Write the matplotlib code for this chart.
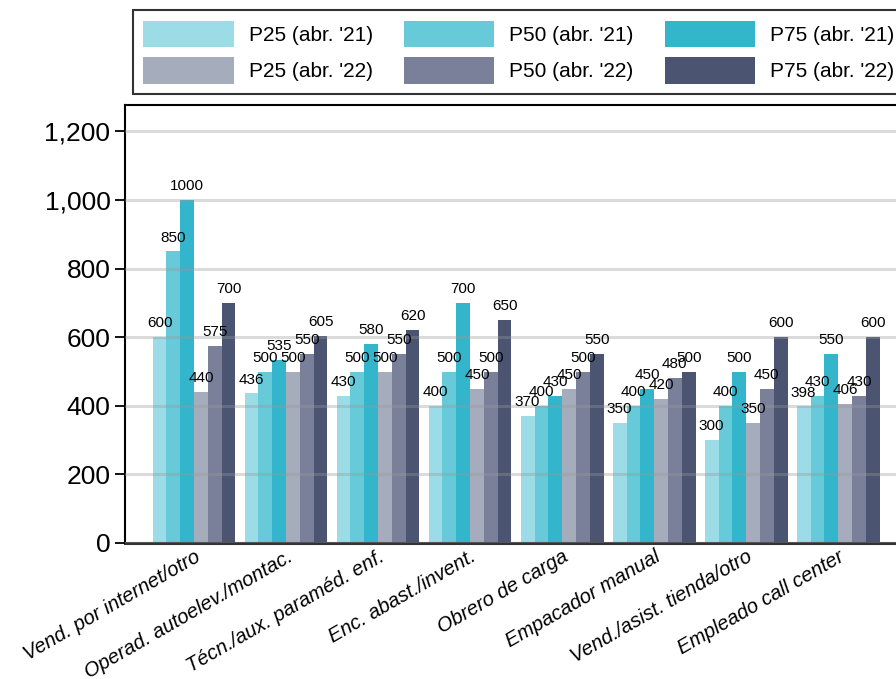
import matplotlib
matplotlib.use("Agg")
import matplotlib.pyplot as plt
import numpy as np
from matplotlib.ticker import FuncFormatter

categories = ["Vend. por internet/otro", "Operad. autoelev./montac.",
              "Técn./aux. paraméd. enf.", "Enc. abast./invent.",
              "Obrero de carga", "Empacador manual",
              "Vend./asist. tienda/otro", "Empleado call center"]

p25_21 = [600, 436, 430, 400, 370, 350, 300, 398]
p50_21 = [850, 500, 500, 500, 400, 400, 400, 430]
p75_21 = [1000, 535, 580, 700, 430, 450, 500, 550]
p25_22 = [440, 500, 500, 450, 450, 420, 350, 406]
p50_22 = [575, 550, 550, 500, 500, 480, 450, 430]
p75_22 = [700, 605, 620, 650, 550, 500, 600, 600]

series = [("P25 (abr. '21)", p25_21, "#9bdce6"),
          ("P50 (abr. '21)", p50_21, "#66cad8"),
          ("P75 (abr. '21)", p75_21, "#33b5cb"),
          ("P25 (abr. '22)", p25_22, "#a5acbc"),
          ("P50 (abr. '22)", p50_22, "#7a8099"),
          ("P75 (abr. '22)", p75_22, "#4b5572")]

plt.rcParams["font.family"] = ["Liberation Sans", "DejaVu Sans"]

fig = plt.figure(figsize=(8.96, 6.79), dpi=100)
ax = fig.add_axes([0.1395, 0.2003, 0.873, 0.645])

x = np.arange(len(categories))
w = 0.15
handles = {}
for i, (name, vals, color) in enumerate(series):
    pos = x + (i - 2.5) * w
    bars = ax.bar(pos, vals, w, color=color, label=name, zorder=2)
    handles[name] = bars
    for xp, v in zip(pos, vals):
        ax.annotate(str(v), (xp, v), xytext=(0, 5), textcoords="offset points",
                    ha="center", va="bottom", fontsize=11, zorder=4)

ax.set_xlim(-0.75, 7.75)
ax.set_ylim(0, 1277)
ax.set_yticks(range(0, 1201, 200))
ax.yaxis.set_major_formatter(FuncFormatter(lambda v, p: f"{int(v):,}"))
ax.tick_params(axis="y", labelsize=19, length=7, width=1.3, direction="out")
ax.tick_params(axis="x", length=0, pad=3)
ax.set_xticks(x)
ax.set_xticklabels(categories, rotation=30, ha="right", rotation_mode="anchor",
                   fontsize=14.5, style="italic")

ax.grid(axis="y", color="#999999", alpha=0.35, lw=2.2, zorder=3)
ax.set_axisbelow(False)
for s in ["left", "top"]:
    ax.spines[s].set_linewidth(1.5)
    ax.spines[s].set_color("black")
ax.spines["bottom"].set_linewidth(2.2)
ax.spines["bottom"].set_color("#333333")
ax.spines["right"].set_visible(False)

order = ["P25 (abr. '21)", "P25 (abr. '22)", "P50 (abr. '21)",
         "P50 (abr. '22)", "P75 (abr. '21)", "P75 (abr. '22)"]
leg = fig.legend([handles[n] for n in order], order, ncol=3,
                 loc="upper left", bbox_to_anchor=(0.1484, 0.985),
                 borderaxespad=0, prop={"size": 15}, frameon=True,
                 fancybox=False, edgecolor="black", handlelength=4.33,
                 handleheight=1.6, columnspacing=1.5, handletextpad=0.72,
                 borderpad=0.5, labelspacing=0.45)
leg.get_frame().set_linewidth(1.5)

fig.savefig("out.png", dpi=100)
